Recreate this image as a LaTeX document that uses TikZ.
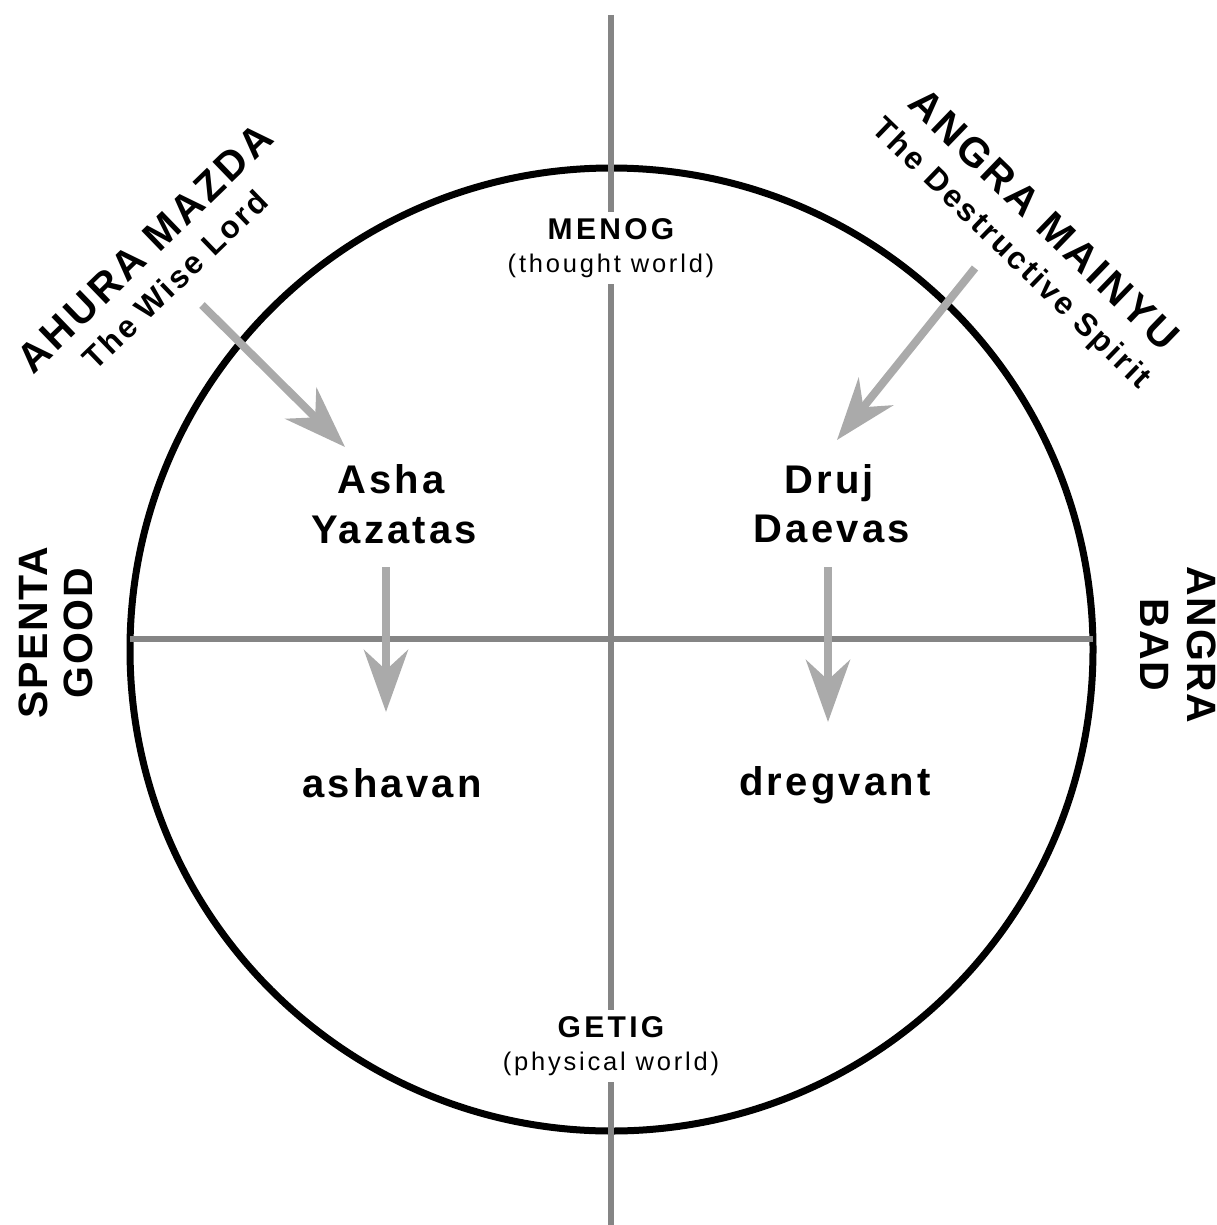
\documentclass[tikz,border=0pt]{standalone}
\usepackage{fontspec}
\setmainfont{Liberation Sans}
\newfontfamily\lsA[LetterSpace=8]{Liberation Sans}
\newfontfamily\lsB[LetterSpace=11]{Liberation Sans}
\newfontfamily\lsC[LetterSpace=4]{Liberation Sans}
\usetikzlibrary{arrows.meta}
\definecolor{axisgray}{HTML}{858585}
\definecolor{arrowgray}{HTML}{AAAAAA}
\tikzset{
  axisline/.style={draw=axisgray, line width=6pt},
  garrow/.style={draw=arrowgray, line width=8pt, -{Stealth[length=62pt,width=44pt,inset=20pt]}},
  mainlbl/.style={anchor=base, inner sep=2pt, font=\lsA\bfseries\fontsize{40}{44}\selectfont},
  godlbl/.style={anchor=base, inner sep=2pt, font=\lsA\bfseries\fontsize{41}{44}\selectfont},
  godsub/.style={anchor=base, inner sep=2pt, font=\lsA\bfseries\fontsize{31.5}{34}\selectfont},
  sidelbl/.style={anchor=base, inner sep=2pt, font=\lsC\bfseries\fontsize{41}{44}\selectfont},
  worldlbl/.style={fill=white, align=center, inner xsep=6pt, inner ysep=6pt,
     font=\lsB\fontsize{25.5}{33}\selectfont},
}
\begin{document}
\begin{tikzpicture}[x=1pt, y=-1pt]
\useasboundingbox (0,0) rectangle (1216,1225);
% circle
\node[circle, draw=black, line width=7pt, minimum size=963pt, inner sep=0pt] (C) at (611.5,649.5) {};
% axes
\coordinate (vtop) at (611,15);
\coordinate (vbot) at (611,1225);
\coordinate (hl) at (130,639);
\coordinate (hr) at (1093,639);
\draw[axisline] (vtop) -- (vbot);
\draw[axisline] (hl) -- (hr);
% world labels
\node[worldlbl] (menog) at (611,248) {{\lsB\bfseries\fontsize{30}{33}\selectfont MENOG}\\(thought world)};
\node[worldlbl] (getig) at (611,1046) {{\lsB\bfseries\fontsize{30}{33}\selectfont GETIG}\\(physical world)};
% inner labels
\node[mainlbl] (asha) at (391,493) {Asha};
\node[mainlbl] (yaz) at (394,543) {Yazatas};
\node[mainlbl] (druj) at (829,493) {Druj};
\node[mainlbl] (daevas) at (832,542) {Daevas};
\node[mainlbl] (ashavan) at (392,797) {ashavan};
\node[mainlbl] (dreg) at (835,795) {dregvant};
% rotated labels
\begin{scope}[shift={(160,264)}, rotate=44, transform shape]
  \node[godlbl] (ahura) at (0,-8) {AHURA MAZDA};
  \node[godsub] (wise) at (0,33) {The Wise Lord};
\end{scope}
\begin{scope}[shift={(1028,236)}, rotate=-44, transform shape]
  \node[godlbl] (angra) at (0,-9) {ANGRA MAINYU};
  \node[godsub] (destr) at (0,34) {The Destructive Spirit};
\end{scope}
\begin{scope}[shift={(55.5,633)}, rotate=90, transform shape]
  \node[sidelbl] (spenta) at (0,-7.8) {SPENTA};
  \node[sidelbl] (good) at (0,37.2) {GOOD};
\end{scope}
\begin{scope}[shift={(1179,645)}, rotate=-90, transform shape]
  \node[sidelbl] (angrab) at (0,-8.8) {ANGRA};
  \node[sidelbl] (bad) at (0,38.2) {BAD};
\end{scope}
% arrows
\coordinate (a1s) at (202,305);
\coordinate (a1e) at (345,447);
\coordinate (a2s) at (975,268);
\coordinate (a2e) at (837,440);
\coordinate (a3s) at (386,567);
\coordinate (a3e) at (386,712);
\coordinate (a4s) at (828,567);
\coordinate (a4e) at (828,722);
\draw[garrow] (a1s) -- (a1e);
\draw[garrow] (a2s) -- (a2e);
\draw[garrow] (a3s) -- (a3e);
\draw[garrow] (a4s) -- (a4e);
\end{tikzpicture}
\end{document}
